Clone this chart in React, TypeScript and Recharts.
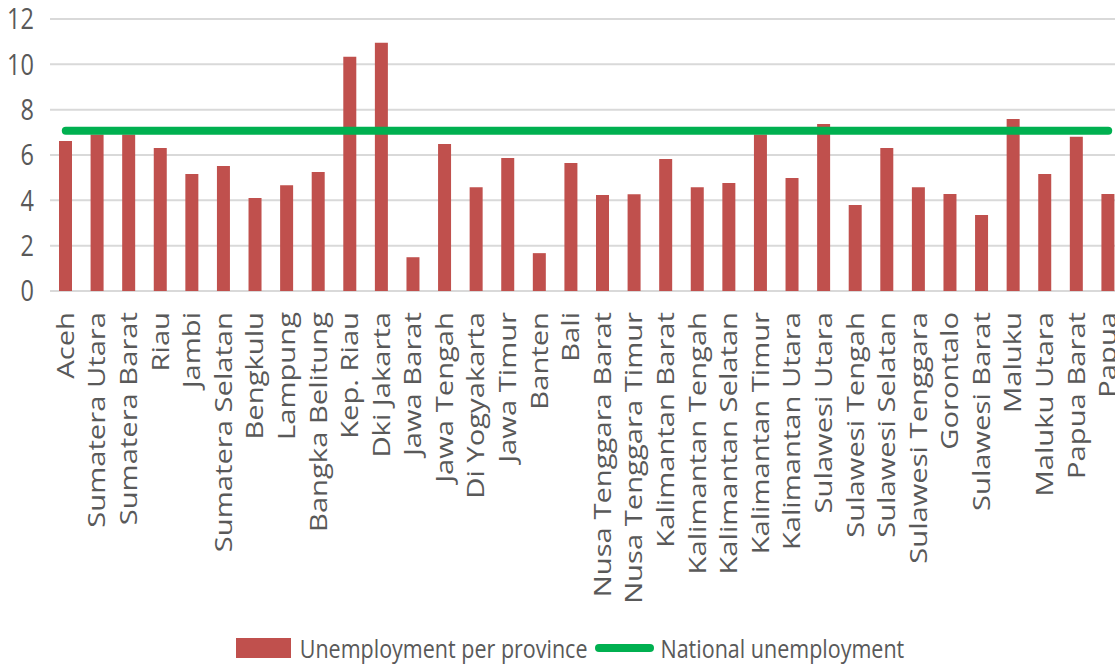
import React from "react";
import {
  ComposedChart,
  Bar,
  Line,
  XAxis,
  YAxis,
  CartesianGrid,
  Legend,
} from "recharts";

const provinces = [
  "Aceh",
  "Sumatera Utara",
  "Sumatera Barat",
  "Riau",
  "Jambi",
  "Sumatera Selatan",
  "Bengkulu",
  "Lampung",
  "Bangka Belitung",
  "Kep. Riau",
  "Dki Jakarta",
  "Jawa Barat",
  "Jawa Tengah",
  "Di Yogyakarta",
  "Jawa Timur",
  "Banten",
  "Bali",
  "Nusa Tenggara Barat",
  "Nusa Tenggara Timur",
  "Kalimantan Barat",
  "Kalimantan Tengah",
  "Kalimantan Selatan",
  "Kalimantan Timur",
  "Kalimantan Utara",
  "Sulawesi Utara",
  "Sulawesi Tengah",
  "Sulawesi Selatan",
  "Sulawesi Tenggara",
  "Gorontalo",
  "Sulawesi Barat",
  "Maluku",
  "Maluku Utara",
  "Papua Barat",
  "Papua",
];

const provinceRates = [
  6.62, 6.9, 6.9, 6.31, 5.16, 5.51, 4.1, 4.67, 5.25, 10.33, 10.95, 1.49, 6.49,
  4.58, 5.87, 1.67, 5.65, 4.23, 4.27, 5.82, 4.58, 4.76, 6.9, 4.98, 7.37, 3.79,
  6.31, 4.58, 4.28, 3.35, 7.59, 5.16, 6.8, 4.28,
];

const nationalRate = 7.07;

const yTicks = [0, 2, 4, 6, 8, 10, 12];

const seriesNames = {
  rate: "Unemployment per province",
  national: "National unemployment",
};

const data = provinces.map((p, i) => ({
  province: p,
  rate: provinceRates[i],
  national: nationalRate,
}));

const TEXT = "#595959";
const FONT = '"Open Sans", "DejaVu Sans", sans-serif';

const XTick = (props: any) => {
  const { x, y, payload } = props;
  return (
    <g transform={`translate(${x},${y})`}>
      <text
        transform="rotate(-90) scale(1.27,1)"
        x={0}
        y={0}
        dy="0.35em"
        textAnchor="end"
        fontSize={23}
        fill={TEXT}
        fontFamily={FONT}
      >
        {payload.value}
      </text>
    </g>
  );
};

const YTick = (props: any) => {
  const { x, y, payload } = props;
  return (
    <g transform={`translate(${x},${y}) scale(1,1.24)`}>
      <text
        x={0}
        y={0}
        dy="0.36em"
        textAnchor="end"
        fontSize={23.5}
        fill={TEXT}
        fontFamily={FONT}
      >
        {payload.value}
      </text>
    </g>
  );
};

const renderLegend = () => (
  <div
    style={{
      display: "flex",
      justifyContent: "center",
      alignItems: "center",
      height: 36,
      fontFamily: FONT,
      fontSize: 21.5,
      color: TEXT,
      whiteSpace: "nowrap",
    }}
  >
    <span
      style={{
        display: "inline-block",
        width: 55,
        height: 20,
        background: "#C0504D",
        marginRight: 9,
      }}
    />
    <span style={{ display: "inline-block", lineHeight: 1, transform: "scaleY(1.2)" }}>
      {seriesNames.rate}
    </span>
    <span
      style={{
        display: "inline-block",
        width: 59,
        height: 8,
        borderRadius: 4,
        background: "#00B050",
        marginLeft: 8,
        marginRight: 6,
      }}
    />
    <span style={{ display: "inline-block", lineHeight: 1, transform: "scaleY(1.2)" }}>
      {seriesNames.national}
    </span>
  </div>
);

export default function App() {
  return (
    <div
      style={{
        position: "absolute",
        left: 0,
        top: 0,
        width: 1115,
        height: 666,
        overflow: "hidden",
        background: "#ffffff",
      }}
    >
      <ComposedChart
        width={1124}
        height={666}
        data={data}
        margin={{ top: 19, right: 0, left: 0, bottom: 0 }}
      >
        <CartesianGrid vertical={false} stroke="#D9D9D9" strokeWidth={2} />
        <XAxis
          dataKey="province"
          interval={0}
          height={339}
          axisLine={false}
          tickLine={false}
          tickSize={0}
          tickMargin={21}
          tick={<XTick />}
        />
        <YAxis
          width={50}
          domain={[0, 12]}
          ticks={yTicks}
          axisLine={false}
          tickLine={false}
          tickSize={0}
          tickMargin={16}
          tick={<YTick />}
        />
        <Bar
          dataKey="rate"
          name={seriesNames.rate}
          fill="#C0504D"
          barSize={13}
          isAnimationActive={false}
        />
        <Line
          dataKey="national"
          name={seriesNames.national}
          type="linear"
          stroke="#00B050"
          strokeWidth={8}
          strokeLinecap="round"
          dot={false}
          activeDot={false}
          isAnimationActive={false}
        />
        <Legend
          verticalAlign="bottom"
          content={renderLegend}
          wrapperStyle={{ left: 0, width: 1140, bottom: 0, height: 36 }}
        />
      </ComposedChart>
    </div>
  );
}
